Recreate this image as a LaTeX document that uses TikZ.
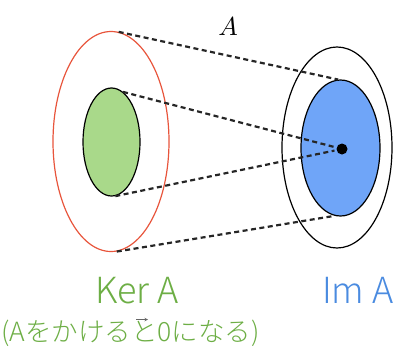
\documentclass[tikz,border=0pt]{standalone}
\usepackage{fontspec}
\usetikzlibrary{shapes.geometric}
\newfontfamily\jp{Noto Sans CJK JP Light}
\definecolor{redline}{HTML}{E8553C}
\definecolor{greenfill}{HTML}{A9D98A}
\definecolor{bluefill}{HTML}{6FA5F8}
\definecolor{greentext}{HTML}{6DAE45}
\definecolor{bluetext}{HTML}{4A8BE0}
\begin{document}
\begin{tikzpicture}[x=1pt,y=-1pt,
  ell/.style={ellipse,inner sep=0pt,line width=1.2pt},
  dashline/.style={line width=2.2pt,dash pattern=on 5pt off 3.5pt,black!85},
  big/.style={font=\jp\fontsize{36}{40}\selectfont,inner sep=0pt},
  small/.style={font=\jp\fontsize{26.5}{29}\selectfont,inner sep=0pt}]
\useasboundingbox (0,0) rectangle (394,349);
\node[ell,draw=redline,minimum width=116pt,minimum height=220pt] (dom) at (111,141.5) {};
\node[ell,draw=black,fill=greenfill,minimum width=57pt,minimum height=108pt] (ker) at (111.5,142) {};
\node[ell,draw=black,minimum width=110pt,minimum height=201pt] (cod) at (337,147.5) {};
\node[ell,draw=black,fill=bluefill,minimum width=79pt,minimum height=136pt] (img) at (340.5,148) {};
\node[circle,fill=black,inner sep=0pt,minimum size=11pt] (zero) at (342,149) {};
\draw[dashline] (dom.86) -- (img.92);
\draw[dashline] (dom.-87) -- (img.-95);
\draw[dashline,shorten >=2pt] (ker.77) -- (zero);
\draw[dashline,shorten >=2pt] (ker.-86) -- (zero);
\node[inner sep=0pt] (lblA) at (228,27) {\scalebox{2.6}{$A$}};
\node[big,text=greentext,anchor=base] (kerlbl) at (137,303) {Ker A};
\node[big,text=bluetext,anchor=base west] (imlbl) at (322,303) {Im A};
\node[small,text=greentext,anchor=base west] (sub) at (1,341) {(Aをかけると0になる)};
\draw[->,line width=0.6pt,black!60,>=stealth] (136,319.5) -- (148,319.5);
\end{tikzpicture}
\end{document}
